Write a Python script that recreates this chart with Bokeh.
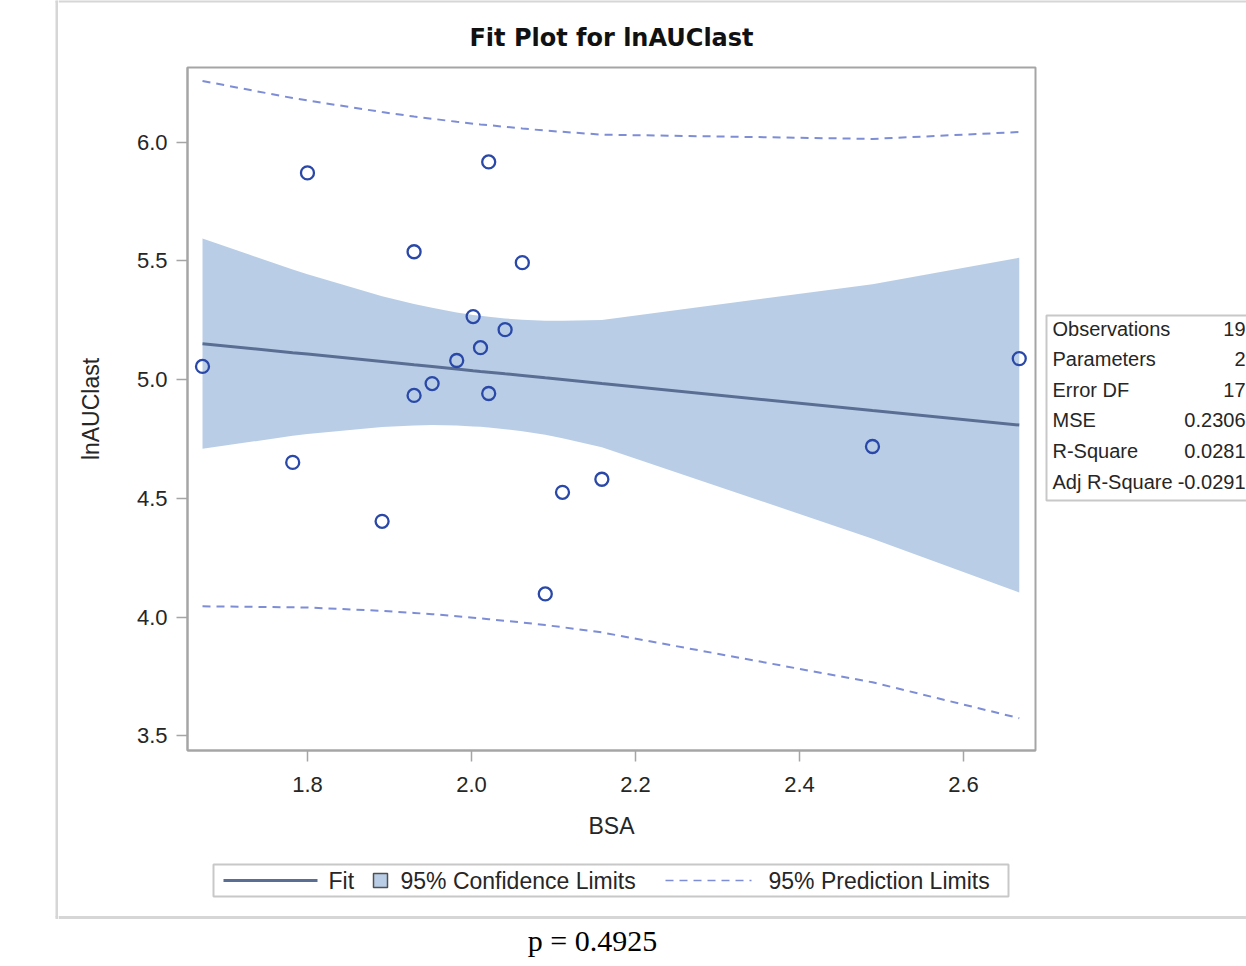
from bokeh.plotting import figure
from bokeh.layouts import column, row
from bokeh.models import Range1d, FixedTicker, PrintfTickFormatter
from bokeh.core.properties import value
from bokeh.embed import file_html
from bokeh.resources import INLINE

# ---------------- data ----------------
bsa = [1.672, 1.800, 1.782, 1.891, 1.930, 1.930, 1.952, 1.982, 2.002, 2.011,
       2.021, 2.021, 2.041, 2.062, 2.090, 2.111, 2.159, 2.489, 2.668]
ln_auclast = [5.055, 5.870, 4.651, 4.403, 5.538, 4.933, 4.983, 5.080, 5.265, 5.134,
              5.916, 4.941, 5.210, 5.492, 4.097, 4.525, 4.580, 4.718, 5.088]

band_x = [1.672, 1.782, 1.800, 1.891, 1.930, 1.952, 1.982, 2.002, 2.011, 2.021,
          2.041, 2.062, 2.090, 2.111, 2.159, 2.489, 2.668]
fit_y = [5.151, 5.113, 5.107, 5.076, 5.062, 5.055, 5.044, 5.037, 5.034, 5.031,
         5.024, 5.017, 5.007, 5.000, 4.983, 4.869, 4.808]
cl_upper = [5.594, 5.463, 5.443, 5.351, 5.318, 5.302, 5.282, 5.272, 5.268, 5.264,
            5.257, 5.252, 5.247, 5.247, 5.251, 5.401, 5.513]
cl_lower = [4.708, 4.763, 4.771, 4.800, 4.806, 4.808, 4.806, 4.802, 4.801, 4.798,
            4.791, 4.782, 4.767, 4.753, 4.715, 4.330, 4.103]
pl_upper = [6.257, 6.185, 6.175, 6.126, 6.107, 6.098, 6.085, 6.077, 6.074, 6.071,
            6.064, 6.057, 6.048, 6.043, 6.031, 6.013, 6.042]
pl_lower = [4.045, 4.041, 4.040, 4.026, 4.017, 4.012, 4.003, 3.997, 3.994, 3.991,
            3.984, 3.977, 3.966, 3.957, 3.935, 3.725, 3.574]

x_ticks = [1.8, 2.0, 2.2, 2.4, 2.6]
y_ticks = [3.5, 4.0, 4.5, 5.0, 5.5, 6.0]

stat_names = ["Observations", "Parameters", "Error DF", "MSE", "R-Square", "Adj R-Square"]
stat_values = ["19", "2", "17", "0.2306", "0.0281", "-0.0291"]

legend_labels = ["Fit", "95% Confidence Limits", "95% Prediction Limits"]
title_text = "Fit Plot for lnAUClast"
x_label = "BSA"
y_label = "lnAUClast"
p_text = "p = 0.4925"

# ---------------- styles / layout (page pixels) ----------------
W, H = 1246, 966
TOP_H = 55            # top strip height (border + title)
MID_B = 858           # bottom of middle row
LEFT_W = 58           # left strip width
MAIN_R = 1040         # right edge of main figure
FL, FR, FT, FB = 187, 1035, 67, 750   # plot frame
X0, X1 = 1.6537, 2.6878
Y0, Y1 = 3.4379, 6.3137

BAND = "#B9CEE6"
FIT = "#5A6E94"
PTS = "#2A48A8"
PRED = "#7D8DD6"
FRAME = "#A5A5A5"
BOXLINE = "#C8C8C8"
OUTER = "#D6D6D6"
TXT = "#262626"
SANS = "Liberation Sans"


def blank(x0, y0, w, h, top=0, bottom=0):
    """A figure drawn in page-pixel coordinates (frame = canvas minus top/bottom borders)."""
    f = figure(width=w, height=h, output_backend="svg", toolbar_location=None,
               title_location=None,
               x_range=Range1d(x0, x0 + w), y_range=Range1d(y0 + h - bottom, y0 + top),
               x_axis_type=None, y_axis_type=None,
               min_border_left=0, min_border_right=0,
               min_border_top=top, min_border_bottom=bottom)
    f.outline_line_color = None
    f.background_fill_color = "white"
    f.border_fill_color = "white"
    return f


# ---------------- main plot ----------------
mw, mh = MAIN_R - LEFT_W, MID_B - TOP_H
p = figure(width=mw, height=mh, output_backend="svg", toolbar_location=None,
           title_location=None,
           x_range=Range1d(X0, X1), y_range=Range1d(Y0, Y1),
           min_border_left=FL - LEFT_W, min_border_right=MAIN_R - FR,
           min_border_top=FT - TOP_H, min_border_bottom=MID_B - FB)
p.background_fill_color = "white"
p.border_fill_color = "white"
p.outline_line_color = FRAME
p.outline_line_width = 2
p.xgrid.visible = False
p.ygrid.visible = False

for ax in (p.xaxis[0], p.yaxis[0]):
    ax.axis_line_color = FRAME
    ax.axis_line_width = 2
    ax.major_tick_line_color = FRAME
    ax.major_tick_line_width = 1.5
    ax.major_tick_out = 11
    ax.major_tick_in = 0
    ax.minor_tick_line_color = None
    ax.major_label_text_font = SANS
    ax.major_label_text_font_size = "22px"
    ax.major_label_text_color = TXT
    ax.axis_label_text_font = SANS
    ax.axis_label_text_font_size = "23px"
    ax.axis_label_text_font_style = "normal"
    ax.axis_label_text_color = TXT
    ax.formatter = PrintfTickFormatter(format="%.1f")

p.xaxis[0].ticker = FixedTicker(ticks=x_ticks)
p.yaxis[0].ticker = FixedTicker(ticks=y_ticks)
p.xaxis[0].axis_label = x_label
p.yaxis[0].axis_label = y_label
p.xaxis[0].major_label_standoff = 15
p.yaxis[0].major_label_standoff = 9
p.xaxis[0].axis_label_standoff = 18
p.yaxis[0].axis_label_standoff = 30

p.varea(x=band_x, y1=cl_lower, y2=cl_upper, fill_color=BAND, fill_alpha=1.0)
p.line(band_x, fit_y, line_color=FIT, line_width=3)
p.line(band_x, pl_upper, line_color=PRED, line_width=2, line_dash="8 6")
p.line(band_x, pl_lower, line_color=PRED, line_width=2, line_dash="8 6")
p.scatter(bsa, ln_auclast, marker="circle", size=13, fill_color="white",
          fill_alpha=0.0, line_color=PTS, line_width=2.3)

# ---------------- left strip: outer border, full height ----------------
left = blank(0, 0, LEFT_W, H)
left.line([56.5, 56.5], [0, 917], line_color=OUTER, line_width=3)
left.line([55, LEFT_W], [0.5, 0.5], line_color=OUTER, line_width=3)
left.line([55, LEFT_W], [917, 917], line_color=OUTER, line_width=3)

# ---------------- top strip: outer border top + title ----------------
top = blank(LEFT_W, 0, W - LEFT_W, TOP_H)
top.line([LEFT_W, W], [0.5, 0.5], line_color=OUTER, line_width=3)
top.text(x=[(FL + FR) / 2], y=[37], text=[title_text], text_font=value("DejaVu Sans"),
         text_font_style="bold", text_font_size=value("24px"), text_color="#111111",
         text_align="center", text_baseline="middle")

# ---------------- right strip: fit statistics inset ----------------
right = blank(MAIN_R, TOP_H, W - MAIN_R, MID_B - TOP_H, top=FT - TOP_H, bottom=MID_B - FB)
right.line([W + 20, 1046, 1046, W + 20], [315, 315, 500, 500],
           line_color=BOXLINE, line_width=2)
row_y = [328 + i * 30.6 for i in range(len(stat_names))]
right.text(x=[1052] * len(stat_names), y=row_y, text=stat_names,
           text_font=value(SANS), text_font_size=value("20px"), text_color=TXT,
           text_align="left", text_baseline="middle")
right.text(x=[1245] * len(stat_values), y=row_y, text=stat_values,
           text_font=value(SANS), text_font_size=value("20px"), text_color=TXT,
           text_align="right", text_baseline="middle")

# ---------------- bottom strip: legend, border, caption ----------------
bot = blank(LEFT_W, MID_B, W - LEFT_W, H - MID_B)
bot.line([LEFT_W, W], [917, 917], line_color=OUTER, line_width=3)
bot.quad(left=[213], right=[1008], top=[864], bottom=[896], fill_alpha=0,
         line_color=BOXLINE, line_width=2)
bot.line([223, 317], [880, 880], line_color=FIT, line_width=3)
bot.quad(left=[373], right=[387], top=[873], bottom=[887], fill_color=BAND,
         line_color="#505050", line_width=1.5)
bot.line([665, 751], [880, 880], line_color=PRED, line_width=1.5, line_dash="8 6")
bot.text(x=[328, 400, 768], y=[880, 880, 880], text=legend_labels,
         text_font=value(SANS), text_font_size=value("23px"), text_color=TXT,
         text_align="left", text_baseline="middle")
bot.text(x=[592], y=[940], text=[p_text], text_font=value("Liberation Serif"),
         text_font_size=value("30px"), text_color="#000000",
         text_align="center", text_baseline="middle")

layout = row(left, column(top, row(p, right), bot))
open("out.html", "w").write(file_html(layout, INLINE))
